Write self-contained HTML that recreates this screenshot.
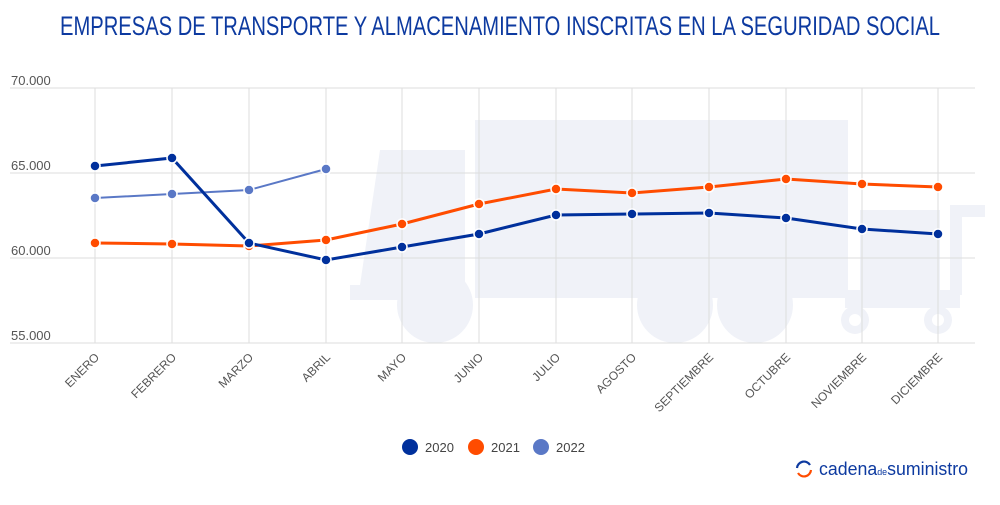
<!DOCTYPE html>
<html><head><meta charset="utf-8"><style>
body{margin:0;background:#fff;width:1000px;height:500px;overflow:hidden;font-family:"Liberation Sans",sans-serif}
</style></head><body>
<svg width="1000" height="500" viewBox="0 0 1000 500" xmlns="http://www.w3.org/2000/svg" font-family="Liberation Sans, sans-serif">
<text x="500" y="35" text-anchor="middle" font-size="27" fill="#0d3aa0" textLength="880" lengthAdjust="spacingAndGlyphs" font-family="Liberation Sans Narrow, Liberation Sans, sans-serif">EMPRESAS DE TRANSPORTE Y ALMACENAMIENTO INSCRITAS EN LA SEGURIDAD SOCIAL</text>
<g fill="#f0f2f8">
<rect x="475" y="120" width="373" height="178"/>
<path d="M380 150 L465 150 L465 300 L350 300 L350 285 L360 285 Z"/>
<circle cx="435" cy="305" r="38"/><circle cx="675" cy="305" r="38"/><circle cx="755" cy="305" r="38"/>
<rect x="860" y="210" width="80" height="85"/>
<rect x="845" y="290" width="115" height="18"/>
<rect x="950" y="205" width="12" height="90"/>
<rect x="950" y="205" width="35" height="12"/>
<circle cx="855" cy="320" r="14"/><circle cx="938" cy="320" r="14"/>
</g>
<g fill="#fff"><circle cx="855" cy="320" r="6"/><circle cx="938" cy="320" r="6"/></g>
<g stroke="#ddd" stroke-width="1">
<line x1="10" y1="88" x2="975" y2="88"/><line x1="10" y1="173" x2="975" y2="173"/>
<line x1="10" y1="258" x2="975" y2="258"/><line x1="10" y1="343" x2="975" y2="343"/>
<line x1="95" y1="88" x2="95" y2="343"/><line x1="172" y1="88" x2="172" y2="343"/><line x1="249" y1="88" x2="249" y2="343"/><line x1="326" y1="88" x2="326" y2="343"/><line x1="402" y1="88" x2="402" y2="343"/><line x1="479" y1="88" x2="479" y2="343"/><line x1="556" y1="88" x2="556" y2="343"/><line x1="632" y1="88" x2="632" y2="343"/><line x1="709" y1="88" x2="709" y2="343"/><line x1="786" y1="88" x2="786" y2="343"/><line x1="862" y1="88" x2="862" y2="343"/><line x1="938" y1="88" x2="938" y2="343"/>
</g>
<g font-size="13" fill="#555">
<text x="11" y="85">70.000</text><text x="11" y="170">65.000</text><text x="11" y="255">60.000</text><text x="11" y="340">55.000</text>
</g>
<g font-size="12" fill="#555" text-anchor="end">
<text transform="translate(100,358) rotate(-45)">ENERO</text>
<text transform="translate(177,358) rotate(-45)">FEBRERO</text>
<text transform="translate(254,358) rotate(-45)">MARZO</text>
<text transform="translate(331,358) rotate(-45)">ABRIL</text>
<text transform="translate(407,358) rotate(-45)">MAYO</text>
<text transform="translate(484,358) rotate(-45)">JUNIO</text>
<text transform="translate(561,358) rotate(-45)">JULIO</text>
<text transform="translate(637,358) rotate(-45)">AGOSTO</text>
<text transform="translate(714,358) rotate(-45)">SEPTIEMBRE</text>
<text transform="translate(791,358) rotate(-45)">OCTUBRE</text>
<text transform="translate(867,358) rotate(-45)">NOVIEMBRE</text>
<text transform="translate(943,358) rotate(-45)">DICIEMBRE</text>
</g>
<polyline fill="none" stroke="#5a78c6" stroke-width="2" points="95,198 172,194 249,190 326,169"/>
<polyline fill="none" stroke="#ff4c00" stroke-width="3" points="95,243 172,244 249,246 326,240 402,224 479,204 556,189 632,193 709,187 786,179 862,184 938,187"/>
<polyline fill="none" stroke="#00309c" stroke-width="3" points="95,166 172,158 249,243 326,260 402,247 479,234 556,215 632,214 709,213 786,218 862,229 938,234"/>
<g stroke="#fff" stroke-width="1.5">
<g fill="#5a78c6"><circle cx="95" cy="198" r="5"/><circle cx="172" cy="194" r="5"/><circle cx="249" cy="190" r="5"/><circle cx="326" cy="169" r="5"/></g>
<g fill="#ff4c00"><circle cx="95" cy="243" r="5"/><circle cx="172" cy="244" r="5"/><circle cx="249" cy="246" r="5"/><circle cx="326" cy="240" r="5"/><circle cx="402" cy="224" r="5"/><circle cx="479" cy="204" r="5"/><circle cx="556" cy="189" r="5"/><circle cx="632" cy="193" r="5"/><circle cx="709" cy="187" r="5"/><circle cx="786" cy="179" r="5"/><circle cx="862" cy="184" r="5"/><circle cx="938" cy="187" r="5"/></g>
<g fill="#00309c"><circle cx="95" cy="166" r="5"/><circle cx="172" cy="158" r="5"/><circle cx="249" cy="243" r="5"/><circle cx="326" cy="260" r="5"/><circle cx="402" cy="247" r="5"/><circle cx="479" cy="234" r="5"/><circle cx="556" cy="215" r="5"/><circle cx="632" cy="214" r="5"/><circle cx="709" cy="213" r="5"/><circle cx="786" cy="218" r="5"/><circle cx="862" cy="229" r="5"/><circle cx="938" cy="234" r="5"/></g>
</g>
<g font-size="13" fill="#444">
<circle cx="410" cy="447" r="8" fill="#00309c"/><text x="425" y="452">2020</text>
<circle cx="476" cy="447" r="8" fill="#ff4c00"/><text x="491" y="452">2021</text>
<circle cx="541" cy="447" r="8" fill="#5a78c6"/><text x="556" y="452">2022</text>
</g>
<path d="M797 468 A7 7 0 0 1 810 465" fill="none" stroke="#0d3aa0" stroke-width="2.2"/>
<path d="M811 470 A7 7 0 0 1 798 473" fill="none" stroke="#ff4c00" stroke-width="2.2"/>
<text x="819" y="475" font-size="18" fill="#0d3aa0" textLength="149" lengthAdjust="spacingAndGlyphs">cadena<tspan font-size="9">de</tspan>suministro</text>
</svg>
</body></html>
